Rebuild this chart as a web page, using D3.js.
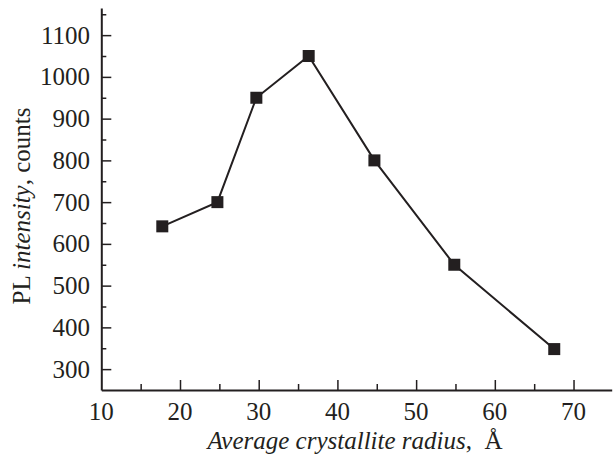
<!DOCTYPE html>
<html><head><meta charset="utf-8">
<script src="https://cdn.jsdelivr.net/npm/d3@7"></script>
<style>
body{margin:0;background:#fff;}
text{font-family:"Liberation Serif","Times New Roman",serif;fill:#231f20;}
</style></head>
<body><svg id="c" width="613" height="461"></svg>
<script>
const radius = [17.75, 24.75, 29.7, 36.35, 44.7, 54.85, 67.55];
const intensity = [642, 700, 950, 1050, 800, 550, 348];
const xTicks = [10, 20, 30, 40, 50, 60, 70];
const yTicks = [300, 400, 500, 600, 700, 800, 900, 1000, 1100];

const svg = d3.select("#c");
const x = d3.scaleLinear().domain([10, 74.85]).range([101.3, 611.7]);
const y = d3.scaleLinear().domain([250, 1165]).range([390, 8]);
const ink = "#231f20";

// x axis
const xAxis = d3.axisBottom(x).tickValues(d3.range(15, 75, 10)).tickSize(-6).tickFormat("").tickSizeOuter(0);
svg.append("g").attr("transform","translate(0,390)").call(xAxis);
const xAxisMaj = d3.axisBottom(x).tickValues(xTicks.filter(d=>d>10)).tickSize(-10).tickFormat("").tickSizeOuter(0);
svg.append("g").attr("transform","translate(0,390)").call(xAxisMaj).select(".domain").remove();
svg.append("g").selectAll("text").data(xTicks).join("text")
  .attr("x", d=>x(d)).attr("y", 420).attr("text-anchor","middle")
  .attr("font-size", 25).text(d=>d);

// y axis
const yAxis = d3.axisLeft(y).tickValues(d3.range(350, 1200, 100)).tickSize(-5).tickFormat("").tickSizeOuter(0);
svg.append("g").attr("transform","translate(101.3,0)").call(yAxis);
const yAxisMaj = d3.axisLeft(y).tickValues(yTicks).tickSize(-10).tickFormat("").tickSizeOuter(0);
svg.append("g").attr("transform","translate(101.3,0)").call(yAxisMaj).select(".domain").remove();
svg.append("g").selectAll("text").data(yTicks).join("text")
  .attr("x", 90).attr("y", d=>y(d)+8.5).attr("text-anchor","end")
  .attr("font-size", 25).text(d=>d);

svg.selectAll(".domain").attr("stroke", ink).attr("stroke-width", 2);
svg.selectAll(".tick line").attr("stroke", ink).attr("stroke-width", 1.5);

// line
const pts = radius.map((r,i)=>[r, intensity[i]]);
svg.append("path").datum(pts)
  .attr("fill","none").attr("stroke", ink).attr("stroke-width", 2)
  .attr("d", d3.line().x(d=>x(d[0])).y(d=>y(d[1])));
svg.append("g").selectAll("rect").data(pts).join("rect")
  .attr("x", d=>x(d[0])-6).attr("y", d=>y(d[1])-6)
  .attr("width", 12).attr("height", 12).attr("fill", ink);

// axis titles
const xl = svg.append("text").attr("x", 355).attr("y", 449).attr("text-anchor","middle").attr("font-size", 25);
xl.append("tspan").attr("font-style","italic").text("Average crystallite radius");
xl.append("tspan").text(",\u00A0\u00A0Å");

const yl = svg.append("text").attr("transform","translate(30,206) rotate(-90)").attr("text-anchor","middle").attr("font-size", 25);
yl.append("tspan").text("PL ");
yl.append("tspan").attr("font-style","italic").text("intensity");
yl.append("tspan").text(", counts");
</script></body></html>
